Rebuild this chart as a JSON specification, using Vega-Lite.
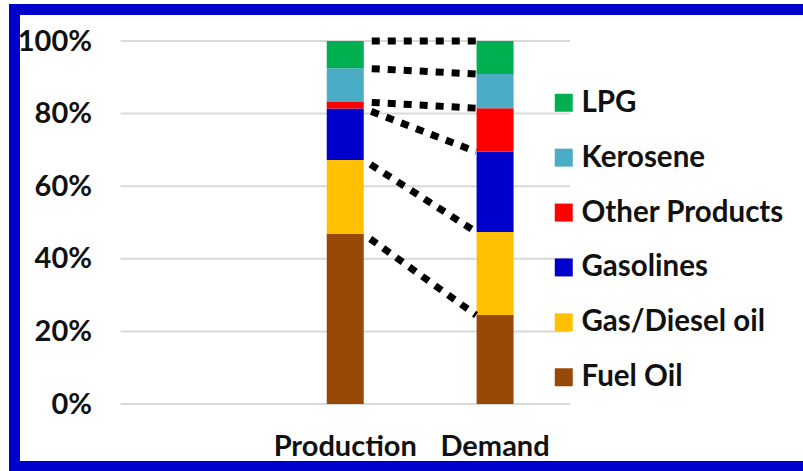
{
  "$schema": "https://vega.github.io/schema/vega-lite/v6.json",
  "width": 800.5,
  "height": 457,
  "autosize": {"type": "none"},
  "padding": {"left": 14.5, "top": 9.5, "right": -12, "bottom": 4.5},
  "background": "white",
  "config": {
    "view": {"stroke": "#0000CC", "strokeWidth": 11, "fill": "white"},
    "font": "Lato",
    "axisX": {
      "title": null,
      "domain": false,
      "ticks": false,
      "tickSize": 0,
      "grid": false,
      "labelAngle": 0,
      "labelFont": "Lato",
      "labelFontWeight": "bold",
      "labelFontSize": 29,
      "labelColor": "#111111",
      "labelBaseline": "alphabetic",
      "labelPadding": 0,
      "offset": -11.5
    },
    "axisY": {
      "title": null,
      "domain": false,
      "ticks": false,
      "tickSize": 0,
      "grid": false,
      "labelFont": "Lato",
      "labelFontWeight": "bold",
      "labelFontSize": 29,
      "labelColor": "#111111",
      "labelPadding": 0,
      "offset": -77
    }
  },
  "datasets": {
    "shares": [
      {"cat": "Production", "product": "Fuel Oil", "rank": 1, "value": 0.468},
      {"cat": "Production", "product": "Gas/Diesel oil", "rank": 2, "value": 0.204},
      {"cat": "Production", "product": "Gasolines", "rank": 3, "value": 0.142},
      {"cat": "Production", "product": "Other Products", "rank": 4, "value": 0.018},
      {"cat": "Production", "product": "Kerosene", "rank": 5, "value": 0.093},
      {"cat": "Production", "product": "LPG", "rank": 6, "value": 0.075},
      {"cat": "Demand", "product": "Fuel Oil", "rank": 1, "value": 0.245},
      {"cat": "Demand", "product": "Gas/Diesel oil", "rank": 2, "value": 0.229},
      {"cat": "Demand", "product": "Gasolines", "rank": 3, "value": 0.221},
      {"cat": "Demand", "product": "Other Products", "rank": 4, "value": 0.12},
      {"cat": "Demand", "product": "Kerosene", "rank": 5, "value": 0.094},
      {"cat": "Demand", "product": "LPG", "rank": 6, "value": 0.091}
    ],
    "grid": [{"g": 0}, {"g": 0.2}, {"g": 0.4}, {"g": 0.6}, {"g": 0.8}, {"g": 1}]
  },
  "layer": [
    {
      "data": {"name": "grid"},
      "mark": {"type": "rule", "color": "#D9D9D9", "strokeWidth": 2},
      "encoding": {
        "y": {
          "field": "g",
          "type": "quantitative",
          "title": null,
          "scale": {"domain": [0, 1], "range": [394.5, 31.5], "nice": false, "zero": false},
          "axis": {"values": [0, 0.2, 0.4, 0.6, 0.8, 1], "format": ".0%"}
        },
        "x": {
          "datum": "blank",
          "type": "nominal",
          "bandPosition": 0,
          "title": null,
          "scale": {"domain": ["blank", "Production", "Demand"], "range": [106, 555.5], "paddingInner": 0, "paddingOuter": 0},
          "axis": {"values": ["Production", "Demand"]}
        },
        "x2": {"datum": "Demand", "bandPosition": 1}
      }
    },
    {
      "data": {"name": "shares"},
      "mark": {"type": "bar", "width": {"band": 0.247}},
      "encoding": {
        "x": {
          "field": "cat",
          "type": "nominal",
          "title": null,
          "axis": {"values": ["Production", "Demand"]}
        },
        "y": {
          "field": "value",
          "type": "quantitative",
          "stack": "zero",
          "title": null,
          "axis": {"values": [0, 0.2, 0.4, 0.6, 0.8, 1], "format": ".0%"}
        },
        "order": {"field": "rank", "type": "quantitative"},
        "color": {
          "field": "product",
          "type": "nominal",
          "scale": {
            "domain": ["LPG", "Kerosene", "Other Products", "Gasolines", "Gas/Diesel oil", "Fuel Oil"],
            "range": ["#00B050", "#4BACC6", "#FF0000", "#0000CC", "#FFC000", "#984807"]
          },
          "legend": {
            "orient": "none",
            "legendX": 534.5,
            "legendY": 78.5,
            "title": null,
            "padding": 0,
            "symbolType": "square",
            "symbolSize": 324,
            "symbolStrokeWidth": 0,
            "symbolOpacity": 1,
            "labelFont": "Lato",
            "labelFontWeight": "bold",
            "labelFontSize": 29.5,
            "labelColor": "#111111",
            "labelOffset": 3,
            "rowPadding": 23.9,
            "labelLimit": 300
          }
        }
      }
    },
    {
      "data": {"name": "shares"},
      "transform": [
        {"stack": "value", "groupby": ["cat"], "sort": [{"field": "rank", "order": "ascending"}], "as": ["v0", "v1"]},
        {"pivot": "cat", "value": "v1", "groupby": ["product"]}
      ],
      "mark": {"type": "rule", "color": "#000000", "strokeWidth": 7, "strokeDash": [8, 8], "strokeDashOffset": 8, "strokeCap": "butt"},
      "encoding": {
        "x": {"datum": "Production", "type": "nominal", "bandPosition": 0.6235, "title": null, "axis": {"values": ["Production", "Demand"]}},
        "x2": {"datum": "Demand", "bandPosition": 0.373},
        "y": {"field": "Production", "type": "quantitative", "title": null, "axis": {"values": [0, 0.2, 0.4, 0.6, 0.8, 1], "format": ".0%"}},
        "y2": {"field": "Demand"}
      }
    }
  ]
}
